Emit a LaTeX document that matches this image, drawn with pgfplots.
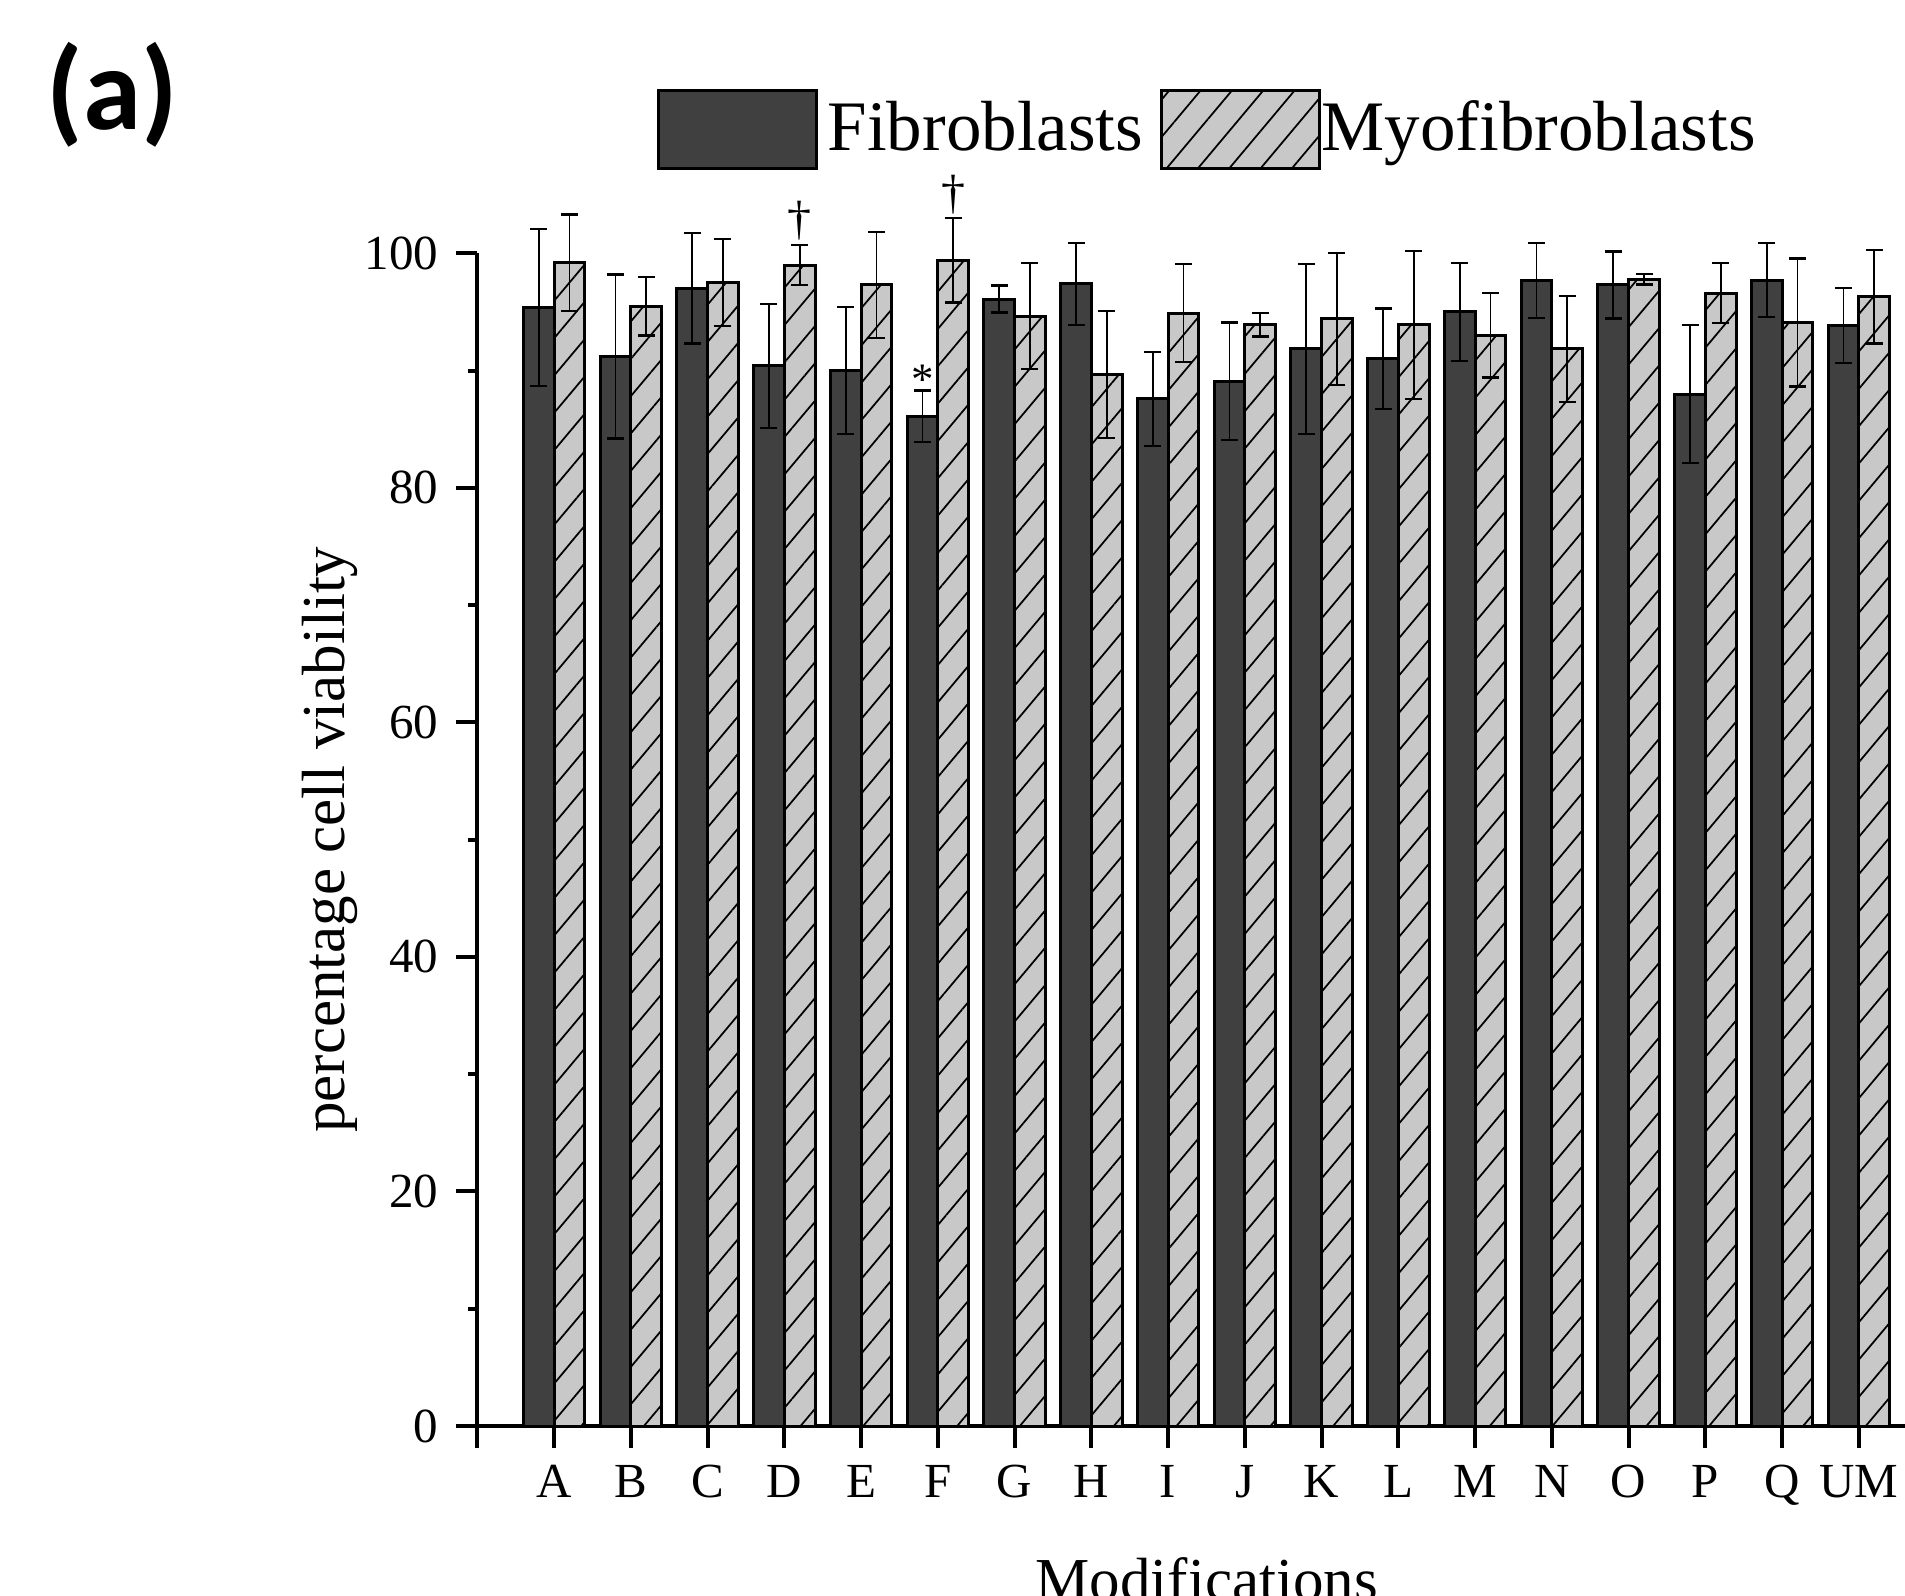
\documentclass[border=0pt]{standalone}
\usepackage{fontspec}
\setmainfont{Liberation Serif}
\newfontfamily\panelfont{Carlito}
\usepackage{pgfplots}
\usepackage{pgfplotstable}
\pgfplotsset{compat=1.18}
\usetikzlibrary{patterns.meta}
\definecolor{fibro}{RGB}{64,64,64}
\definecolor{myofibro}{RGB}{200,200,200}

% mean and error for each modification (x = 1..18)
\pgfplotstableread{
x  fib    fibe  myo    myoe
1  95.4   6.7   99.2   4.1
2  91.2   7.0   95.5   2.5
3  97.0   4.7   97.5   3.7
4  90.4   5.3   99.0   1.7
5  90.0   5.4   97.3   4.5
6  86.1   2.2   99.4   3.6
7  96.1   1.15  94.65  4.5
8  97.4   3.5   89.65  5.4
9  87.6   4.0   94.9   4.2
10 89.1   5.0   93.9   1.0
11 91.85  7.25  94.4   5.6
12 91.0   4.3   93.9   6.3
13 95.0   4.2   93.0   3.6
14 97.7   3.2   91.85  4.5
15 97.3   2.85  97.8   0.45
16 88.0   5.9   96.6   2.55
17 97.7   3.15  94.1   5.45
18 93.85  3.2   96.3   4.0
}\viability

\pgfplotsset{
  bigbox/.style={legend image code/.code={\draw[##1] (0pt,-7.8pt) rectangle (31.6pt,7.8pt);}},
  errs/.style={error bars/.cd, y dir=both, y explicit,
    error bar style={line width=0.35pt, black},
    error mark options={rotate=90, line width=0.45pt, mark size=1.7pt, black}},
}

\begin{document}
\begin{tikzpicture}
\begin{axis}[
  at={(0pt,0pt)}, anchor=south west,
  scale only axis, width=285.54pt, height=234.54pt,
  xmin=0, xmax=18.6, ymin=0, ymax=100,
  axis x line=bottom, axis y line=left,
  axis line style={-, line width=0.8pt},
  clip=false,
  ybar=0pt, bar width=0.4,
  xtick={0,...,18},
  xticklabels={,A,B,C,D,E,F,G,H,I,J,K,L,M,N,O,P,Q,UM},
  ytick={0,20,...,100}, minor ytick={10,30,...,90},
  tick align=outside,
  major tick length=4.3pt, minor tick length=1.8pt,
  tick style={line width=0.8pt, black},
  /pgf/number format/assume math mode=true,
  tick label style={font=\fontsize{9.8}{11}\selectfont},
  ylabel={percentage cell viability},
  ylabel style={at={(axis description cs:-0.1032,0.5)}, anchor=center, font=\fontsize{12.2}{14}\selectfont},
  xlabel={Modifications},
  xlabel style={at={(axis description cs:0.511,-0.1484)}, anchor=base, font=\fontsize{12.2}{14}\selectfont},
  legend columns=2,
  legend style={at={(axis description cs:0.125,1.1056)}, anchor=west, draw=none, fill=none,
    font=\fontsize{14.2}{16}\selectfont, inner sep=0pt,
    /tikz/every even column/.append style={column sep=1.3pt}},
]
\addplot[fill=fibro, draw=black, line width=0.6pt, bigbox, errs]
  table[x=x, y=fib, y error=fibe] {\viability};
\addplot[fill=myofibro, draw=black, line width=0.6pt,
  postaction={pattern={Lines[angle=50, distance=4.8pt, line width=0.35pt]}, pattern color=black},
  bigbox, errs]
  table[x=x, y=myo, y error=myoe] {\viability};
\legend{Fibroblasts,\hspace*{-1.8pt}Myofibroblasts}

\node[anchor=base, inner sep=0pt, font=\fontsize{9.6}{10}\selectfont] at (axis cs:4.2,101.6) {\textdagger};
\node[anchor=base, inner sep=0pt, font=\fontsize{9.6}{10}\selectfont] at (axis cs:6.2,103.8) {\textdagger};
\node[anchor=base, inner sep=0pt, font=\fontsize{9}{10}\selectfont] at (axis cs:5.8,88.0) {*};
\node[font=\panelfont\bfseries\fontsize{23.5}{26}\selectfont] at (axis description cs:-0.2555,1.1354) {(a)};
\end{axis}
\pgfresetboundingbox
\path[use as bounding box] (-95.46pt,-34pt) rectangle (285.54pt,285.2pt);
\end{tikzpicture}
\end{document}
